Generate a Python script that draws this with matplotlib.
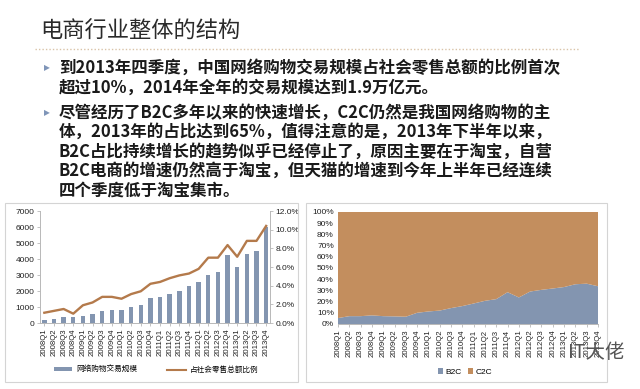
import matplotlib
matplotlib.use('Agg')
import matplotlib.pyplot as plt
from matplotlib.patches import Rectangle, Patch
from matplotlib.lines import Line2D
import numpy as np

plt.rcParams['font.family'] = ['Noto Sans CJK SC', 'DejaVu Sans']

# ---------------- data ----------------
quarters = ['2008Q1', '2008Q2', '2008Q3', '2008Q4', '2009Q1', '2009Q2', '2009Q3', '2009Q4',
            '2010Q1', '2010Q2', '2010Q3', '2010Q4', '2011Q1', '2011Q2', '2011Q3', '2011Q4',
            '2012Q1', '2012Q2', '2012Q3', '2012Q4', '2013Q1', '2013Q2', '2013Q3', '2013Q4']
volume = [210, 270, 350, 400, 460, 560, 730, 835, 835, 1000, 1130, 1590,
          1630, 1800, 2000, 2340, 2550, 2990, 3170, 4220, 3490, 4340, 4530, 6010]
ratio = [1.1, 1.3, 1.5, 1.0, 1.9, 2.2, 2.8, 2.8, 2.6, 3.1, 3.4, 4.2,
         4.4, 4.8, 5.1, 5.3, 5.8, 7.0, 7.0, 8.35, 7.1, 8.8, 8.8, 10.4]
b2c = [5.3, 7.0, 7.0, 7.7, 7.0, 6.8, 6.5, 10.0, 11.2, 12.0, 14.2, 16.0,
       18.3, 20.7, 22.2, 28.4, 23.7, 29.0, 30.5, 31.7, 33.0, 35.5, 36.0, 33.7]
c2c = [100 - v for v in b2c]
left_ticks = [0, 1000, 2000, 3000, 4000, 5000, 6000, 7000]
right_ticks = [0, 2, 4, 6, 8, 10, 12]
share_ticks = [0, 10, 20, 30, 40, 50, 60, 70, 80, 90, 100]

title = '电商行业整体的结构'
lines = [
    '到2013年四季度，中国网络购物交易规模占社会零售总额的比例首次',
    '超过10%，2014年全年的交易规模达到1.9万亿元。',
    '尽管经历了B2C多年以来的快速增长，C2C仍然是我国网络购物的主',
    '体，2013年的占比达到65%，值得注意的是，2013年下半年以来，',
    'B2C占比持续增长的趋势似乎已经停止了，原因主要在于淘宝，自营',
    'B2C电商的增速仍然高于淘宝，但天猫的增速到今年上半年已经连续',
    '四个季度低于淘宝集市。',
]
line_y = [68, 88, 113, 132, 152, 171, 191]
bullet_y = [68, 113]

BAR = '#8395b0'
LINE = '#b47a4b'
C2C = '#c38e5e'
AX = '#b8b8b8'
W, H = 640, 389

fig = plt.figure(figsize=(6.4, 3.89), dpi=100)
fig.patch.set_facecolor('white')

def fx(px):
    return px / W

def fy(py):
    return 1 - py / H

# ---------------- title and text ----------------
fig.text(fx(40), fy(31), title, fontsize=16, color='#2a2a2a', va='center', ha='left')
fig.add_artist(Line2D([fx(35), fx(580)], [fy(49), fy(49)], color='#d9c3a8',
                      lw=1.0, linestyle=(0, (1, 1.5))))
for by in bullet_y:
    fig.text(fx(44), fy(by), '▶', fontsize=5.5, color='#7f95b8', va='center', ha='left',
             family=['DejaVu Sans'])
for t, y in zip(lines, line_y):
    fig.text(fx(59), fy(y), t, fontsize=11.9, color='#1a1a1a', va='center', ha='left',
             fontweight='bold')

# ---------------- frames ----------------
fig.add_artist(Rectangle((fx(5), fy(382)), fx(298) - fx(5), fy(203) - fy(382),
                         fill=False, edgecolor='#d4d4d4', lw=0.8, transform=fig.transFigure))
fig.add_artist(Rectangle((fx(306), fy(382)), fx(607) - fx(306), fy(203) - fy(382),
                         fill=False, edgecolor='#d4d4d4', lw=0.8, transform=fig.transFigure))

# ---------------- left chart ----------------
ax1 = fig.add_axes([fx(40), fy(323), fx(270) - fx(40), fy(211) - fy(323)])
x = np.arange(len(quarters))
ax1.bar(x, volume, width=0.46, color=BAR, zorder=2)
ax1.set_ylim(0, 7000)
ax1.set_xlim(-0.45, 23.4)
ax1.set_yticks(left_ticks)
ax1.set_yticklabels([str(v) for v in left_ticks], fontsize=6, family=['Liberation Sans'], color='#222')
ax1.set_xticks(x)
ax1.set_xticklabels(quarters, rotation=90, fontsize=5.6, family=['Liberation Sans'], color='#222')
for s in ['top', 'right']:
    ax1.spines[s].set_visible(False)
ax1.spines['left'].set_color(AX)
ax1.spines['bottom'].set_color(AX)
ax1.spines['left'].set_linewidth(0.7)
ax1.spines['bottom'].set_linewidth(0.7)
ax1.tick_params(axis='both', length=2, width=0.6, color=AX, pad=2)
ax1.set_facecolor('none')

ax2 = ax1.twinx()
ax2.plot(x, ratio, color=LINE, lw=1.7, zorder=3)
ax2.set_ylim(0, 12)
ax2.set_yticks(right_ticks)
ax2.set_yticklabels([f'{v:.1f}%' for v in right_ticks], fontsize=6, family=['Liberation Sans'], color='#222')
for s in ['top', 'left', 'bottom']:
    ax2.spines[s].set_visible(False)
ax2.spines['right'].set_color(AX)
ax2.spines['right'].set_linewidth(0.7)
ax2.tick_params(axis='y', length=2, width=0.6, color=AX, pad=2)

h1 = Patch(facecolor=BAR, edgecolor='none')
h2 = Line2D([], [], color=LINE, lw=1.5)
ax1.legend([h1, h2], ['网络购物交易规模', '占社会零售总额比例'], loc='center',
           bbox_to_anchor=(fx(156), fy(370)), bbox_transform=fig.transFigure,
           ncol=2, frameon=False, fontsize=5.5, handlelength=2.4, handleheight=0.5,
           columnspacing=4.0, handletextpad=0.5)

# ---------------- right chart ----------------
ax3 = fig.add_axes([fx(338), fy(324), fx(598) - fx(338), fy(212) - fy(324)])
ax3.stackplot(x, b2c, c2c, colors=[BAR, C2C], labels=['B2C', 'C2C'], lw=0)
ax3.set_xlim(0, 23)
ax3.set_ylim(0, 100)
ax3.set_yticks(share_ticks)
ax3.set_yticklabels([f'{v}%' for v in share_ticks], fontsize=6, family=['Liberation Sans'], color='#222')
ax3.set_xticks(x)
ax3.set_xticklabels(quarters, rotation=90, fontsize=5.6, family=['Liberation Sans'], color='#222')
for s in ['top', 'right', 'left']:
    ax3.spines[s].set_visible(False)
ax3.spines['bottom'].set_color(AX)
ax3.spines['bottom'].set_linewidth(0.7)
ax3.tick_params(axis='x', length=2, width=0.6, color=AX, pad=2)
ax3.tick_params(axis='y', length=0, pad=3)
ax3.legend(loc='center', bbox_to_anchor=(fx(465), fy(372)), bbox_transform=fig.transFigure,
           ncol=2, frameon=False, handlelength=0.6, handleheight=0.6,
           columnspacing=0.8, handletextpad=0.3, prop={'family': 'Liberation Sans', 'size': 6})

# watermark (overlaps the last tick labels, as in the reference)
fig.text(fx(568), fy(352), 'IT大佬', fontsize=14, color='#555555', va='center', ha='left',
         fontweight='light')

fig.savefig('out.png', dpi=100, facecolor='white')
